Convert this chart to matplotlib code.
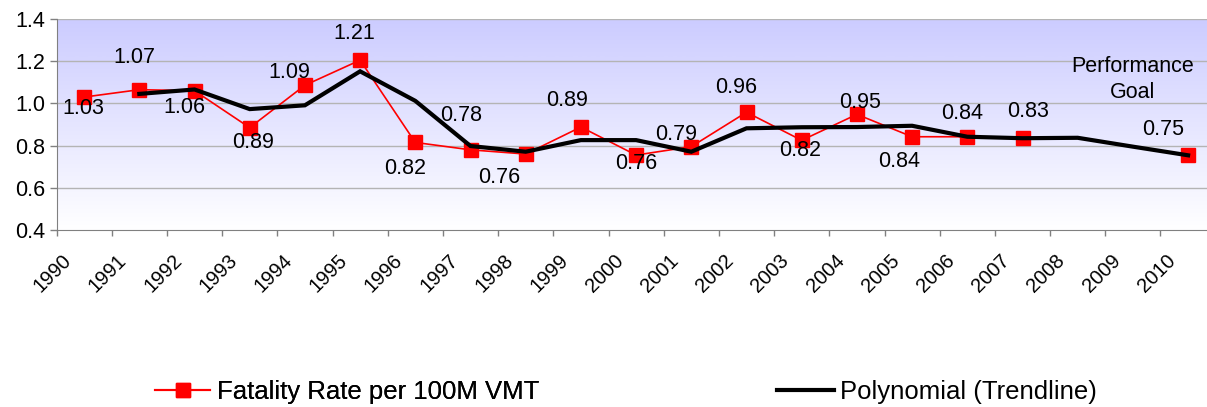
import numpy as np
import matplotlib
matplotlib.use("Agg")
import matplotlib.pyplot as plt
from matplotlib.transforms import ScaledTranslation
from matplotlib.lines import Line2D

plt.rcParams['font.family'] = ['Liberation Sans', 'DejaVu Sans']

years = [str(y) for y in range(1990, 2011)]
nan = np.nan
fatality_rate = [1.03, 1.065, 1.06, 0.885, 1.086, 1.205, 0.815, 0.78, 0.76, 0.888,
                 0.755, 0.795, 0.958, 0.825, 0.948, 0.842, 0.842, 0.834, nan, nan, 0.754]
rate_labels = ["1.03", "1.07", "1.06", "0.89", "1.09", "1.21", "0.82", "0.78", "0.76", "0.89",
               "0.76", "0.79", "0.96", "0.82", "0.95", "0.84", "0.84", "0.83", "", "", "0.75"]
trendline = [nan, 1.045, 1.066, 0.973, 0.991, 1.152, 1.012, 0.798, 0.771, 0.826,
             0.826, 0.771, 0.882, 0.887, 0.888, 0.894, 0.842, 0.835, 0.837, 0.795, 0.754]
# label offsets in pixels (dx right, dy down)
label_offsets = [(-1, 11), (-5, -32), (-10, 17), (3, 15), (-16, -13), (-6, -27), (-10, 26),
                 (-9, -34), (-27, 23), (-14, -27), (0, 8), (-15, -12), (-10, -25), (-2, 10),
                 (3, -12), (-13, 25), (-5, -23), (6, -27), (0, 0), (0, 0), (-25, -26)]
yticks = [0.4, 0.6, 0.8, 1.0, 1.2, 1.4]

W, H = 1207, 407
fig = plt.figure(figsize=(W / 100, H / 100), dpi=100)
ax = fig.add_axes([56.5 / W, (H - 230) / H, 21 * 55.2 / W, 211 / H])

n = len(years)
x = np.arange(n)

# gradient background
grad = np.linspace(0, 1, 256).reshape(-1, 1)
top = np.array([204, 204, 255]) / 255
bot = np.array([255, 255, 255]) / 255
img = top[None, None, :] * (1 - grad[:, :, None]) + bot[None, None, :] * grad[:, :, None]
ax.imshow(img, extent=[0, 1, 0, 1], transform=ax.transAxes, aspect='auto', zorder=0)

ax.set_xlim(-0.5, n - 0.5)
ax.set_ylim(0.4, 1.4)

for yt in yticks[1:]:
    ax.axhline(yt, color='#B4B4B4', lw=1.0, zorder=1)

ax.plot(x, fatality_rate, color='#FF0000', lw=1.2, marker='s', markersize=10,
        markerfacecolor='#FF0000', markeredgecolor='#FF0000', zorder=3)
ax.plot(x, trendline, color='black', lw=3.0, zorder=4, solid_joinstyle='miter')

for i, (v, lab) in enumerate(zip(fatality_rate, rate_labels)):
    if lab:
        dx, dy = label_offsets[i]
        ax.annotate(lab, xy=(i, v), xytext=(dx, -dy), textcoords='offset pixels',
                    ha='center', va='center', fontsize=15.5, color='black', zorder=5)

ax.text(19.0, 1.115, "Performance\nGoal", ha='center', va='center', fontsize=15.5,
        linespacing=1.3, zorder=5)

# axes styling
for s in ['top', 'right']:
    ax.spines[s].set_visible(False)
ax.spines['left'].set_color('#808080')
ax.spines['bottom'].set_color('#808080')
ax.spines['left'].set_zorder(6)
ax.spines['bottom'].set_zorder(6)

ax.set_yticks(yticks)
ax.set_yticklabels([f"{t:.1f}" for t in yticks], fontsize=15.5)
ax.tick_params(axis='y', length=5, width=1, color='#808080', pad=3)

ax.set_xticks(np.arange(n + 1) - 0.5)
ax.set_xticklabels([])
ax.tick_params(axis='x', which='major', length=4, width=1, color='#808080', direction='out')
ax.set_xticks(x, minor=True)
ax.set_xticklabels(years, minor=True, fontsize=14.5, rotation=45,
                   ha='center', va='center', rotation_mode='anchor')
ax.tick_params(axis='x', which='minor', length=0, pad=31)
off = ScaledTranslation(-31.5 / 100, 0, fig.dpi_scale_trans)
for lab in ax.get_xticklabels(minor=True):
    lab.set_transform(lab.get_transform() + off)

# legend
h1 = Line2D([], [], color='#FF0000', lw=1.5, marker='s', markersize=10,
            markerfacecolor='#FF0000', markeredgecolor='#FF0000')
h2 = Line2D([], [], color='black', lw=3.0)
leg1 = fig.legend([h1], ["Fatality Rate per 100M VMT"], loc='center left',
                  bbox_to_anchor=(155 / W, (H - 392) / H), frameon=False, fontsize=18.5,
                  borderpad=0, borderaxespad=0, handlelength=2.15, handletextpad=0.28, numpoints=1)
leg2 = fig.legend([h2], ["Polynomial (Trendline)"], loc='center left',
                  bbox_to_anchor=(777 / W, (H - 392) / H), frameon=False, fontsize=18.5,
                  borderpad=0, borderaxespad=0, handlelength=2.2, handletextpad=0.24)
fig.add_artist(leg1)

fig.savefig("out.png", dpi=100)
